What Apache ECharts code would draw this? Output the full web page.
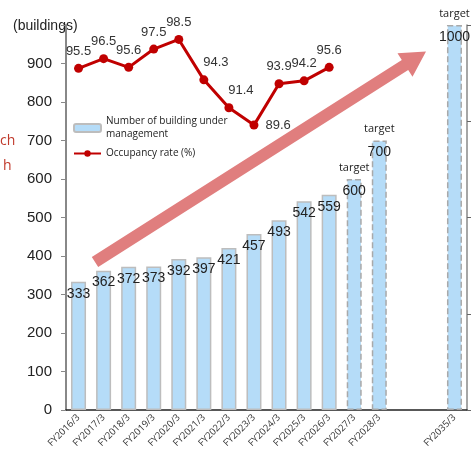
<!DOCTYPE html>
<html><head><meta charset="utf-8">
<script src="https://cdn.jsdelivr.net/npm/echarts@6/dist/echarts.min.js"></script>
<style>html,body{margin:0;padding:0;background:#fff}#c{width:472px;height:461px}</style>
</head><body><div id="c"></div>
<script>
const categories = ['FY2016/3','FY2017/3','FY2018/3','FY2019/3','FY2020/3','FY2021/3','FY2022/3','FY2023/3','FY2024/3','FY2025/3','FY2026/3','FY2027/3','FY2028/3','','','FY2035/3'];
const buildings = [333,362,372,373,392,397,421,457,493,542,559,600,700,null,null,1000];
const isTarget = [false,false,false,false,false,false,false,false,false,false,false,true,true,false,false,true];
const occupancy = [95.5,96.5,95.6,97.5,98.5,94.3,91.4,89.6,93.9,94.2,95.6];
const leftTicks = {min:0, max:1000, interval:100};
const rightTicks = {min:60, max:100, interval:10};
const barName = 'Number of building under\nmanagement';
const lineName = 'Occupancy rate (%)';

const chart = echarts.init(document.getElementById('c'), null, {renderer:'canvas'});
const numFont = 'Arial, "Liberation Sans", sans-serif';
const txtFont = '"Open Sans", "Noto Sans", sans-serif';

const barData = buildings.map((v,i)=>({
  value: v,
  itemStyle: {borderType: isTarget[i] ? 'dashed' : 'solid', borderColor: isTarget[i] ? '#a9a9a9' : '#bdbdbd'}
}));
const targetData = buildings.map((v,i)=> isTarget[i] ? v : null);

const lineLabelStyle = {}; // per-point label tweaks (styling only)
lineLabelStyle[5] = {offset:[12,0]};
lineLabelStyle[6] = {offset:[12,0]};
lineLabelStyle[7] = {position:'right', distance:7};
const lineData = occupancy.map((v,i)=>{
  const o = {value:v};
  if (lineLabelStyle[i]) o.label = lineLabelStyle[i];
  return o;
});

chart.setOption({
  animation:false,
  grid:{left:66, right:5, top:25, bottom:51, containLabel:false},
  legend:{
    orient:'vertical', left:68, top:110, itemGap:6, itemWidth:27, itemHeight:8,
    textStyle:{fontFamily:txtFont, fontSize:10, color:'#222', lineHeight:13},
    data:[barName, lineName]
  },
  xAxis:{
    type:'category', data:categories,
    axisLine:{lineStyle:{color:'#222', width:1.5}},
    axisTick:{show:false},
    axisLabel:{interval:0, rotate:45, fontSize:9.5, color:'#333', fontFamily:txtFont, margin:6}
  },
  yAxis:[{
    type:'value', min:leftTicks.min, max:leftTicks.max, interval:leftTicks.interval,
    axisLine:{show:true, lineStyle:{color:'#888', width:2}},
    axisTick:{show:true, length:5, lineStyle:{color:'#888'}},
    splitLine:{show:false},
    axisLabel:{fontSize:15, color:'#222', fontFamily:numFont, margin:14,
      formatter:v=> v===leftTicks.max ? '' : String(v)}
  },{
    type:'value', min:rightTicks.min, max:rightTicks.max, interval:rightTicks.interval,
    position:'right',
    axisLine:{show:true, lineStyle:{color:'#888', width:1.5}},
    axisTick:{show:true, length:4, lineStyle:{color:'#666'}},
    splitLine:{show:false},
    axisLabel:{show:false}
  }],
  graphic:[
    {type:'text', left:13, top:19, style:{text:'(buildings)', font:'14px '+numFont, fill:'#222'}},
    {type:'text', left:0, top:134, style:{text:'ch', font:'14px '+txtFont, fill:'#c0392b'}},
    {type:'text', left:3, top:159, style:{text:'h', font:'14px '+txtFont, fill:'#c0392b'}},
    {type:'polygon', z:5, shape:{points:[[91.8,256.9],[401.8,59.9],[397.5,53.2],[426,51.5],[412.5,76.8],[408.2,70.1],[98.2,267.1]]},
      style:{fill:'#e07e7e'}}
  ],
  series:[{
    name:barName, type:'bar', data:barData, barWidth:15, yAxisIndex:0,
    itemStyle:{color:'#b5dcf8', borderColor:'#bdbdbd', borderWidth:1.5},
    label:{show:true, position:'insideTop', distance:5, fontSize:14, color:'#222', fontFamily:numFont}
  },{
    name:'targetMark', type:'bar', data:targetData, barWidth:15, barGap:'-100%', yAxisIndex:0,
    itemStyle:{color:'rgba(0,0,0,0)'}, silent:true,
    label:{show:true, position:'top', distance:6, formatter:'target', fontSize:11, color:'#222', fontFamily:txtFont}
  },{
    name:lineName, type:'line', data:lineData, yAxisIndex:1, z:10,
    symbol:'circle', symbolSize:9,
    lineStyle:{color:'#c00000', width:3},
    itemStyle:{color:'#c00000'},
    label:{show:true, position:'top', distance:6, fontSize:13, color:'#333', fontFamily:numFont}
  }]
});
</script></body></html>
